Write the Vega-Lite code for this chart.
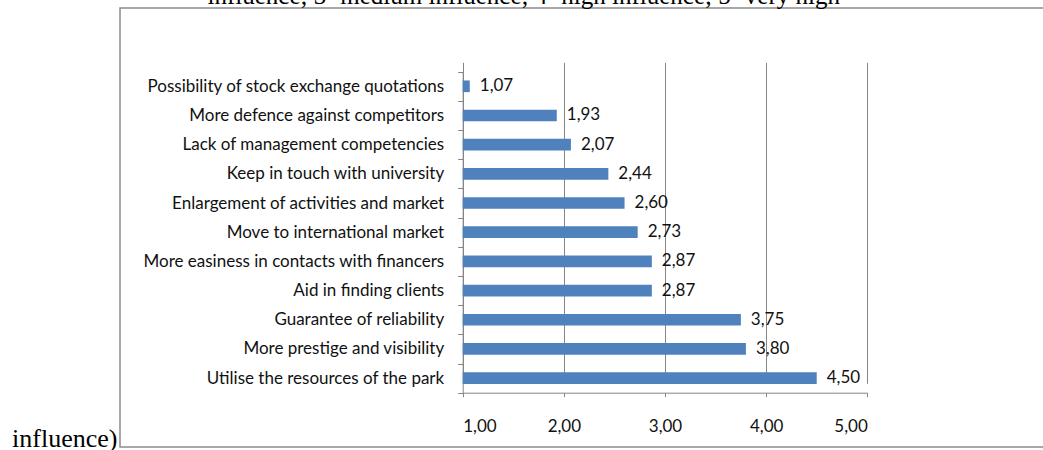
{
  "$schema": "https://vega.github.io/schema/vega-lite/v6.json",
  "autosize": {"type": "none"},
  "padding": {"left": 120, "top": 8, "right": 0, "bottom": 3},
  "width": 926,
  "height": 439,
  "background": "white",
  "config": {
    "locale": {"number": {"decimal": ",", "thousands": ".", "grouping": [3], "currency": ["", ""]}},
    "view": {"stroke": "#8c8c8c", "strokeWidth": 1.5}
  },
  "data": {
    "values": [
      {"factor": "Possibility of stock exchange quotations", "value": 1.07},
      {"factor": "More defence against competitors", "value": 1.93},
      {"factor": "Lack of management competencies", "value": 2.07},
      {"factor": "Keep in touch with university", "value": 2.44},
      {"factor": "Enlargement of activities and market", "value": 2.60},
      {"factor": "Move to international market", "value": 2.73},
      {"factor": "More easiness in contacts with financers", "value": 2.87},
      {"factor": "Aid in finding clients", "value": 2.87},
      {"factor": "Guarantee of reliability", "value": 3.75},
      {"factor": "More prestige and visibility", "value": 3.80},
      {"factor": "Utilise the resources of the park", "value": 4.50}
    ]
  },
  "encoding": {
    "y": {
      "field": "factor",
      "type": "nominal",
      "sort": null,
      "scale": {"range": [63.7, 384.7], "paddingInner": 0, "paddingOuter": 0},
      "axis": {
        "offset": -342.7,
        "domainColor": "#868686",
        "tickColor": "#868686",
        "tickSize": 5,
        "tickBand": "extent",
        "labelPadding": 14,
        "labelFont": "Lato",
        "labelFontSize": 17,
        "labelColor": "#111111",
        "labelLimit": 500,
        "grid": false,
        "title": "influence)",
        "titleFont": "Liberation Serif",
        "titleFontSize": 26,
        "titleFontWeight": "normal",
        "titleColor": "#000000",
        "titleAngle": 0,
        "titleAlign": "right",
        "titleBaseline": "alphabetic",
        "titleX": -345.7,
        "titleY": 438
      }
    }
  },
  "layer": [
    {
      "mark": {"type": "bar", "color": "#4F81BD", "height": {"band": 0.4}},
      "encoding": {
        "x": {
          "field": "value",
          "type": "quantitative",
          "scale": {"domain": [1, 5], "range": [342.7, 747.3], "zero": false, "nice": false},
          "axis": {
            "offset": -54.3,
            "values": [1, 2, 3, 4, 5],
            "format": ".2f",
            "domainColor": "#868686",
            "tickColor": "#868686",
            "tickSize": 4,
            "grid": true,
            "gridColor": "#868686",
            "gridOpacity": 1,
            "labelFont": "Lato",
            "labelFontSize": 17,
            "labelColor": "#111111",
            "labelBaseline": "alphabetic",
            "labelPadding": 35,
            "title": "influence; 3=medium influence; 4=high influence; 5=very high",
            "titleFont": "Liberation Serif",
            "titleFontSize": 25,
            "titleFontWeight": "normal",
            "titleColor": "#000000",
            "titleAngle": 0,
            "titleAlign": "left",
            "titleBaseline": "alphabetic",
            "titleX": 87,
            "titleY": -389.5
          }
        },
        "x2": {"datum": 1}
      }
    },
    {
      "mark": {"type": "text", "align": "left", "baseline": "middle", "dx": 10, "font": "Lato", "fontSize": 17, "color": "#111111"},
      "encoding": {
        "x": {"field": "value", "type": "quantitative"},
        "text": {"field": "value", "type": "quantitative", "format": ".2f"}
      }
    }
  ]
}
